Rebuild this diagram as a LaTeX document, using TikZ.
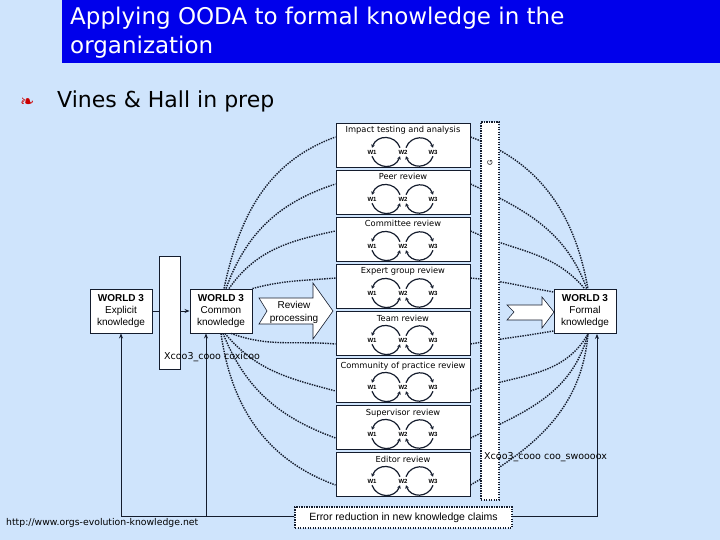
\documentclass[tikz,border=0pt]{standalone}
\usepackage{fontspec}
\setmainfont{Liberation Sans}
\newfontfamily\slidefont{DejaVu Sans}
\usetikzlibrary{arrows.meta}

\definecolor{slidebg}{RGB}{207,228,252}
\definecolor{titlebar}{RGB}{0,0,235}
\definecolor{ink}{RGB}{20,28,45}

\tikzset{
  review/.style={draw=ink,line width=1pt,fill=white,minimum width=134pt,minimum height=44pt,inner sep=0pt},
  world/.style={draw=ink,line width=0.9pt,fill=white,minimum width=62pt,minimum height=44pt,inner sep=0pt,align=center,font=\fontsize{10}{12}\selectfont},
  wlab/.style={font=\fontsize{6}{6}\selectfont\bfseries,inner sep=0.5pt},
  warr/.style={ink,line width=1.2pt,-{Stealth[length=3.2pt,width=3.8pt]}},
  dots/.style={ink,dash pattern=on 1.4pt off 1.1pt,line width=1.4pt},
  feed/.style={ink,line width=0.8pt,-{Stealth[length=5pt,width=4pt]}},
  garbled/.style={font=\slidefont\fontsize{9.5}{10}\selectfont,anchor=west,inner sep=0pt}
}

\begin{document}
\begin{tikzpicture}[x=1pt,y=1pt]
  \fill[slidebg] (0,0) rectangle (720,540);
  \useasboundingbox (0,0) rectangle (720,540);

  % title and bullet
  \fill[titlebar] (62,477) rectangle (720,540);
  \node[anchor=north west,align=left,text=white,inner sep=0pt,
        font=\slidefont\fontsize{23}{29}\selectfont] (ttl) at (70,533)
        {Applying OODA to formal knowledge in the\\organization};
  \node[anchor=base west,inner sep=0pt,text=red!80!black,
        font=\slidefont\fontsize{17}{18}\selectfont] (bul) at (20,432) {❧};
  \node[anchor=base west,inner sep=0pt,
        font=\slidefont\fontsize{22}{24}\selectfont] (vh) at (57,432) {Vines \& Hall in prep};

  % review boxes
  \foreach \i/\name in {1/Impact testing and analysis,2/Peer review,3/Committee review,
      4/Expert group review,5/Team review,6/Community of practice review,
      7/Supervisor review,8/Editor review} {
    \node[review] (r\i) at (403,{394-47*(\i-1)}) {};
    \node[anchor=north,inner sep=0pt,font=\slidefont\fontsize{8.3}{9}\selectfont] at ([yshift=-3pt]r\i.north) {\name};
    \node[wlab] (a\i) at ([xshift=-31pt,yshift=-6pt]r\i.center) {W1};
    \node[wlab] (b\i) at ([yshift=-6pt]r\i.center) {W2};
    \node[wlab] (c\i) at ([xshift=30pt,yshift=-6pt]r\i.center) {W3};
    \draw[warr] ([xshift=-3pt,yshift=1.5pt]b\i.north) to[bend right=70,looseness=1.3] ([xshift=0pt,yshift=1.5pt]a\i.north);
    \draw[warr] ([xshift=0pt,yshift=-1.5pt]a\i.south) to[bend right=70,looseness=1.3] ([xshift=-3pt,yshift=-1.5pt]b\i.south);
    \draw[warr] ([xshift=3pt,yshift=1.5pt]b\i.north) to[bend left=70,looseness=1.3] ([xshift=0pt,yshift=1.5pt]c\i.north);
    \draw[warr] ([xshift=0pt,yshift=-1.5pt]c\i.south) to[bend left=70,looseness=1.3] ([xshift=3pt,yshift=-1.5pt]b\i.south);
  }

  % world 3 boxes
  \node[world] (expl) at (121,229) {\textbf{WORLD 3}\\Explicit\\knowledge};
  \node[world] (cmn) at (221,229) {\textbf{WORLD 3}\\Common\\knowledge};
  \node[world] (fml) at (585,228.5) {\textbf{WORLD 3}\\Formal\\knowledge};

  % dotted links
  \foreach \i/\s/\o/\n in {1/3/78/200,2/5/70/198,3/8/55/192}
    \draw[dots] ([xshift=\s pt]cmn.north) to[out=\o,in=\n] ([yshift=9pt]r\i.west);
  \draw[dots] (cmn.north east) to[out=15,in=185] ([yshift=9pt]r4.west);
  \foreach \i/\s/\o/\n in {5/10/-20/175,6/4/-50/165,7/2/-68/160,8/0/-82/160}
    \draw[dots] ([xshift=\s pt]cmn.south) to[out=\o,in=\n] ([yshift=-10pt]r\i.west);
  \foreach \i/\o/\n/\t in {1/-20/100/3,2/-25/110/2,3/-25/130/0}
    \draw[dots] ([yshift=9pt]r\i.east) to[out=\o,in=\n] ([xshift=\t pt]fml.north);
  \draw[dots] ([yshift=9pt]r4.east) to[out=-5,in=170] ([yshift=-3pt]fml.north west);
  \draw[dots] ([yshift=-10pt]r5.east) to[out=10,in=190] ([yshift=3pt]fml.south west);
  \foreach \i/\o/\n in {6/20/240,7/25/255,8/30/265}
    \draw[dots] ([yshift=-10pt]r\i.east) to[out=\o,in=\n] ([xshift=3pt]fml.south);

  % error reduction feedback
  \node[draw=ink,dash pattern=on 1.4pt off 1.1pt,line width=1.4pt,fill=white,minimum width=217pt,
        minimum height=21pt,font=\fontsize{10.5}{12}\selectfont] (err) at (403.5,22.5)
        {Error reduction in new knowledge claims};
  \coordinate (cj) at (206,24);
  \draw[feed] (err.west |- cj) -| (expl.south);
  \draw[feed] (cj) -- (cj |- cmn.south);
  \draw[feed] (err.east |- cj) -| ([xshift=12pt]fml.south);
  \draw[feed] (expl) -- (cmn);

  % bars
  \node[draw=ink,line width=0.9pt,fill=white,minimum width=21pt,minimum height=113pt,inner sep=0pt] (lbar) at (169.5,227.5) {};
  \node[draw=ink,dash pattern=on 1.4pt off 1.1pt,line width=1.4pt,fill=white,minimum width=18pt,minimum height=378pt,inner sep=0pt] (rbar) at (490,229) {};
  \node[rotate=90,inner sep=0pt,font=\fontsize{7}{8}\selectfont] (g) at (490,377) {G};
  \node[garbled] (lg) at (164,183) {Xcoo3\_cooo coxicoo};
  \node[garbled] (rg) at (484,83) {Xcoo3\_cooo coo\_swoooox};

  % review processing arrows
  \draw[ink,line width=0.6pt,fill=white] (259,242) -- (313,242) -- (313,257) -- (333,229)
    -- (313,201) -- (313,216) -- (259,216) -- (267,229) -- cycle;
  \node[align=center,inner sep=0pt,font=\fontsize{10}{13}\selectfont] (rp) at (294,228) {Review\\processing};
  \draw[ink,line width=0.6pt,fill=white] (507,235) -- (542,235) -- (542,243) -- (554,228)
    -- (542,212) -- (542,220) -- (507,220) -- (514,228) -- cycle;

  % url
  \node[anchor=base west,inner sep=0pt,font=\slidefont\fontsize{9.3}{10}\selectfont] (url) at (6,14) {http://www.orgs-evolution-knowledge.net};
\end{tikzpicture}
\end{document}
